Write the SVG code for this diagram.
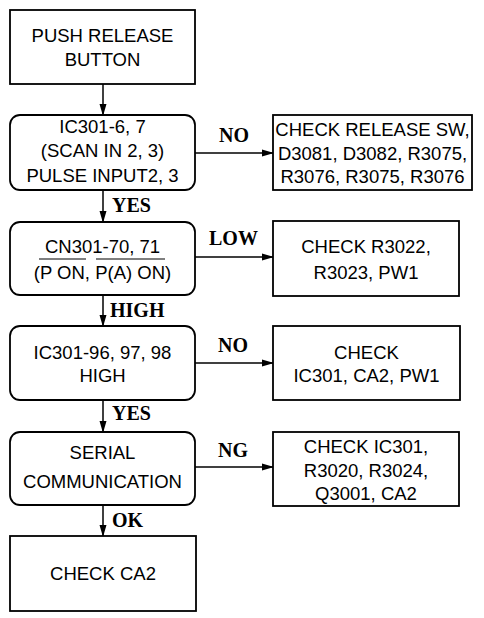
<svg xmlns="http://www.w3.org/2000/svg" width="484" height="618" viewBox="0 0 484 618">
<style>
.box{fill:#fff;stroke:#000;stroke-width:1.8}
.t{font-family:"Liberation Sans",Arial,sans-serif;font-size:18.5px;fill:#000;text-anchor:middle}
.lb{font-family:"Liberation Serif","Times New Roman",serif;font-size:20px;font-weight:bold;fill:#000}
.c{stroke:#000;stroke-width:1.5;fill:none;marker-end:url(#ah)}
</style>
<defs>
<marker id="ah" markerUnits="userSpaceOnUse" markerWidth="12" markerHeight="8" refX="11" refY="4" orient="auto">
<path d="M0,0.5 L12,4 L0,7.5 z" fill="#000"/>
</marker>
</defs>
<rect width="484" height="618" fill="#fff"/>
<g id="connectors">
<line class="c" x1="103" y1="84" x2="103" y2="115"/>
<line class="c" x1="195" y1="153" x2="273" y2="153"/>
<line class="c" x1="103" y1="190" x2="103" y2="222"/>
<line class="c" x1="195" y1="257" x2="273" y2="257"/>
<line class="c" x1="103" y1="295" x2="103" y2="326"/>
<line class="c" x1="195" y1="363" x2="273" y2="363"/>
<line class="c" x1="103" y1="400" x2="103" y2="432"/>
<line class="c" x1="195" y1="467" x2="273" y2="467"/>
<line class="c" x1="103" y1="505" x2="103" y2="536"/>
<text class="lb" x="219" y="142">NO</text>
<text class="lb" x="112" y="212">YES</text>
<text class="lb" x="209" y="245">LOW</text>
<text class="lb" x="110" y="317">HIGH</text>
<text class="lb" x="218" y="352">NO</text>
<text class="lb" x="112" y="420">YES</text>
<text class="lb" x="218" y="457">NG</text>
<text class="lb" x="112" y="527">OK</text>
</g>
<g id="n1">
<rect class="box" x="10" y="10" width="185" height="74"/>
<text class="t" x="102.5" y="42">PUSH RELEASE</text>
<text class="t" x="102.5" y="66">BUTTON</text>
</g>
<g id="n2">
<rect class="box" x="10" y="115" width="185" height="75" rx="10"/>
<text class="t" x="102.5" y="133">IC301-6, 7</text>
<text class="t" x="102.5" y="157">(SCAN IN 2, 3)</text>
<text class="t" x="102.5" y="182">PULSE INPUT2, 3</text>
</g>
<g id="r1">
<rect class="box" x="273" y="115" width="199" height="75"/>
<text class="t" x="372.5" y="136">CHECK RELEASE SW,</text>
<text class="t" x="372.5" y="160">D3081, D3082, R3075,</text>
<text class="t" x="372.5" y="183">R3076, R3075, R3076</text>
</g>
<g id="n3">
<rect class="box" x="10" y="222" width="185" height="73" rx="10"/>
<text class="t" x="102.5" y="253">CN301-70, 71</text>
<line x1="39" y1="259" x2="86" y2="259" stroke="#000" stroke-width="1.2"/>
<line x1="96" y1="259" x2="165" y2="259" stroke="#000" stroke-width="1.2"/>
<text class="t" x="102.5" y="279">(P ON, P(A) ON)</text>
</g>
<g id="r2">
<rect class="box" x="273" y="221" width="186" height="75"/>
<text class="t" x="366" y="253">CHECK R3022,</text>
<text class="t" x="366" y="279">R3023, PW1</text>
</g>
<g id="n4">
<rect class="box" x="10" y="326" width="185" height="74" rx="10"/>
<text class="t" x="102.5" y="359">IC301-96, 97, 98</text>
<text class="t" x="102.5" y="382">HIGH</text>
</g>
<g id="r3">
<rect class="box" x="273" y="326" width="187" height="74"/>
<text class="t" x="366.5" y="359">CHECK</text>
<text class="t" x="366.5" y="382">IC301, CA2, PW1</text>
</g>
<g id="n5">
<rect class="box" x="10" y="432" width="185" height="73" rx="10"/>
<text class="t" x="102.5" y="459">SERIAL</text>
<text class="t" x="102.5" y="488">COMMUNICATION</text>
</g>
<g id="r4">
<rect class="box" x="273" y="432" width="186" height="74"/>
<text class="t" x="366" y="453">CHECK IC301,</text>
<text class="t" x="366" y="477">R3020, R3024,</text>
<text class="t" x="366" y="500">Q3001, CA2</text>
</g>
<g id="n6">
<rect class="box" x="10" y="536" width="186" height="75"/>
<text class="t" x="103" y="580">CHECK CA2</text>
</g>
</svg>
